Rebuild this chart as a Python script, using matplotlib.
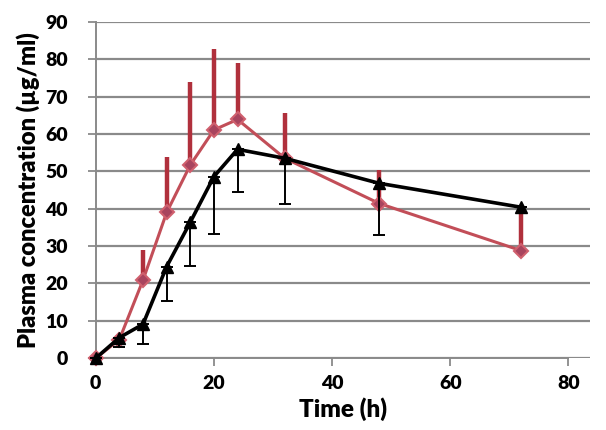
import matplotlib.pyplot as plt

# sampling times (h)
time_h = [0, 4, 8, 12, 16, 20, 24, 32, 48, 72]

# black series: mean and lower SD
black_mean = [0, 5.5, 9.1, 24.5, 36.4, 48.6, 55.9, 53.5, 46.8, 40.4]
black_sd = [0, 2.5, 5.2, 9.2, 11.7, 15.4, 11.5, 12.2, 13.7, 0]

# red series: mean and upper SD
red_mean = [0, 5.0, 20.9, 39.0, 51.7, 61.1, 63.9, 53.5, 41.4, 28.8]
red_sd = [0, 0, 8.1, 14.9, 22.3, 21.6, 15.1, 12.1, 9.0, 11.3]

yticks = [0, 10, 20, 30, 40, 50, 60, 70, 80, 90]
xticks = [0, 20, 40, 60, 80]

plt.rcParams['font.family'] = ['Lato', 'DejaVu Sans']

fig = plt.figure(figsize=(6.06, 4.30), dpi=100)
ax = fig.add_axes([0.158, 0.167, 0.816, 0.782])

ax.grid(axis='y', color='#8a8a8a', linewidth=1.6)
ax.set_axisbelow(True)

# red series
ax.errorbar(time_h, red_mean, yerr=[[0] * len(red_sd), red_sd],
            color='#c24e58', ecolor='#b0303c', elinewidth=3.2, capsize=0,
            linewidth=2.2, marker='D', markersize=7,
            markerfacecolor='#a8445e', markeredgecolor='#d0606e',
            markeredgewidth=1.5, zorder=3)

# black series
ax.errorbar(time_h, black_mean, yerr=[black_sd, [0] * len(black_sd)],
            color='black', ecolor='black', elinewidth=1.4, capsize=4,
            capthick=1.4, linewidth=2.6, marker='^', markersize=8,
            zorder=4)

ax.set_xlim(0, 83.7)
ax.set_ylim(0, 90)
ax.set_xticks(xticks)
ax.set_yticks(yticks)
ax.tick_params(axis='both', labelsize=14, length=6, color='#8a8a8a',
               width=1.3, pad=6)
ax.tick_params(axis='y', pad=14)
for lab in ax.get_xticklabels() + ax.get_yticklabels():
    lab.set_fontweight('heavy')

for s in ['top', 'right']:
    ax.spines[s].set_visible(False)
ax.spines['left'].set_color('#8a8a8a')
ax.spines['bottom'].set_color('#8a8a8a')
ax.spines['left'].set_linewidth(1.4)
ax.spines['bottom'].set_linewidth(1.4)
ax.spines['bottom'].set_bounds(0, 80)

ax.set_xlabel('Time (h)', fontsize=17.5, fontweight='heavy', labelpad=4)
ax.set_ylabel('Plasma concentration (µg/ml)', fontsize=17,
              fontweight='heavy', labelpad=4)

for a in ax.collections + ax.lines:
    a.set_clip_on(False)

fig.savefig('out.png', dpi=100)
